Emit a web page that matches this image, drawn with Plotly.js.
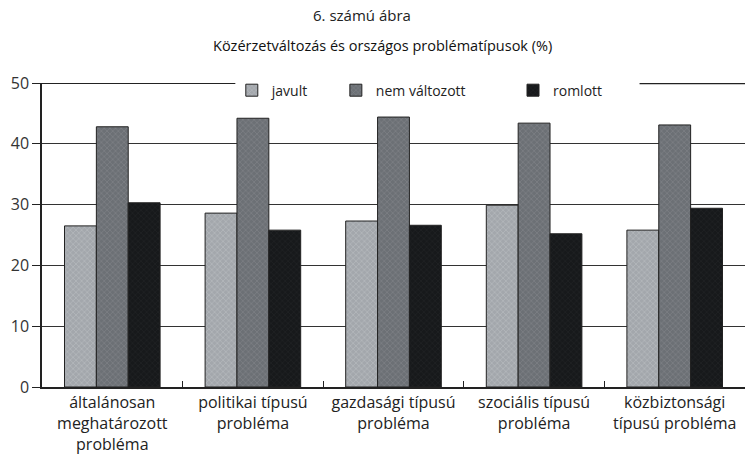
<!DOCTYPE html>
<html><head><meta charset="utf-8">
<script src="https://cdn.plot.ly/plotly-3.0.1.min.js"></script>
<style>html,body{margin:0;padding:0;background:#fff}#c{width:745px;height:462px}</style>
</head><body><div id="c"></div>
<script>
const categories = ["általánosan<br>meghatározott<br>probléma","politikai típusú<br>probléma","gazdasági típusú<br>probléma","szociális típusú<br>probléma","közbiztonsági<br>típusú probléma"];
const javult = [26.5, 28.6, 27.3, 29.9, 25.8];
const nemValtozott = [42.8, 44.2, 44.4, 43.4, 43.1];
const romlott = [30.3, 25.8, 26.6, 25.2, 29.4];
const seriesNames = ["javult","nem változott","romlott"];
const yTicks = [0,10,20,30,40,50];

const FONT = "'Open Sans', Lato, sans-serif";
function bar(name, y, color, fg, legend){
  return {type:'bar', name:name, x:categories, y:y, legend:legend,
    marker:{color:color, line:{color:'#222', width:1},
      pattern:{shape:'x', fillmode:'overlay', bgcolor:color, fgcolor:fg, size:4, solidity:0.25}}};
}
const data = [
  bar(seriesNames[0], javult, '#a3a7ac', '#d4d7da', 'legend'),
  bar(seriesNames[1], nemValtozott, '#6c7075', '#9a9ea3', 'legend2'),
  bar(seriesNames[2], romlott, '#17191b', '#2c2f33', 'legend3')
];
const legBase = {orientation:'h', yanchor:'middle', y:0.975, xanchor:'left', bgcolor:'rgba(0,0,0,0)', font:{family:FONT, size:14, color:'#222'}};
const layout = {
  width:745, height:462,
  margin:{l:42, r:0, t:83, b:75},
  paper_bgcolor:'#fff', plot_bgcolor:'#fff',
  font:{family:FONT, color:'#222'},
  showlegend:true,
  barmode:'group', bargap:0.32, bargroupgap:0,
  annotations:[
    {text:"6. számú ábra", xref:'paper', yref:'paper', x:0.455, y:1, yshift:68, yanchor:'middle', showarrow:false, font:{family:FONT, size:15, color:'#222'}},
    {text:"Közérzetváltozás és országos problématípusok (%)", xref:'paper', yref:'paper', x:0.484, y:1, yshift:38, yanchor:'middle', showarrow:false, font:{family:FONT, size:14.5, color:'#111'}}
  ],
  shapes:[
    {type:'rect', xref:'paper', yref:'y', x0:0.275, x1:0.85, y0:49.2, y1:50.8, fillcolor:'#fff', line:{width:0}, layer:'above'},
    {type:'line', xref:'paper', yref:'y', x0:0.85, x1:1, y0:50, y1:50, line:{color:'#222', width:2.5}, layer:'above'},
    {type:'line', xref:'paper', yref:'y', x0:0, x1:0.275, y0:50, y1:50, line:{color:'#222', width:2}, layer:'above'}
  ],
  legend:Object.assign({}, legBase, {x:0.27}),
  legend2:Object.assign({}, legBase, {x:0.418}),
  legend3:Object.assign({}, legBase, {x:0.67}),
  xaxis:{tickson:'boundaries', ticks:'inside', ticklen:6, tickcolor:'#222', showline:true, linecolor:'#222', linewidth:1.5,
    tickangle:0, tickfont:{family:FONT, size:16, color:'#222'}, showgrid:false},
  yaxis:{range:[0,50], tickvals:yTicks, ticks:'outside', ticklen:8, tickcolor:'#222', showline:true, linecolor:'#222', linewidth:1.5,
    showgrid:true, gridcolor:'#333', gridwidth:1, zeroline:false,
    tickfont:{family:FONT, size:16, color:'#333'}}
};
Plotly.newPlot('c', data, layout, {displayModeBar:false});
</script></body></html>
